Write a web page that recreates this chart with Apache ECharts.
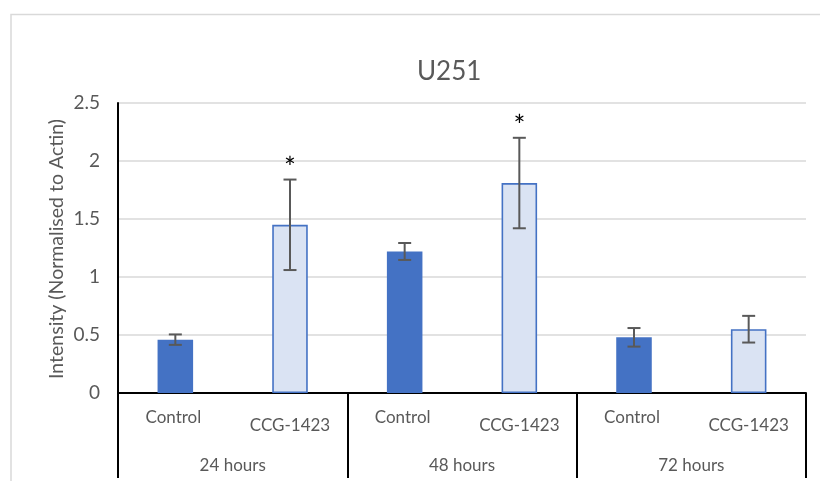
<!DOCTYPE html>
<html>
<head>
<meta charset="utf-8">
<script src="https://cdn.jsdelivr.net/npm/echarts@6/dist/echarts.min.js"></script>
<style>html,body{margin:0;padding:0;background:#fff;}#c{width:820px;height:481px;}</style>
</head>
<body>
<div id="c"></div>
<script>
const categories = ['Control', 'CCG-1423', 'Control', 'CCG-1423', 'Control', 'CCG-1423'];
const groups = ['24 hours', '48 hours', '72 hours'];
const means = [0.46, 1.45, 1.22, 1.81, 0.48, 0.55];
const errors = [0.045, 0.39, 0.073, 0.39, 0.08, 0.115];
const stars = ['', '*', '', '*', '', ''];
const yTicks = [0, 0.5, 1, 1.5, 2, 2.5];
const yTitle = 'Intensity (Normalised to Actin)';

const FONT = 'Lato';
const chart = echarts.init(document.getElementById('c'), null, {renderer: 'canvas'});

const barData = means.map((v, i) => ({
  value: v,
  itemStyle: categories[i] === 'Control'
    ? {color: '#4472C4', borderWidth: 0}
    : {color: '#DAE3F3', borderColor: '#4472C4', borderWidth: 1.6}
}));
const errData = means.map((v, i) => [i, v, errors[i], stars[i]]);

chart.setOption({
  animation: false,
  textStyle: {fontFamily: FONT},
  graphic: [{
    type: 'rect', z: -10, silent: true,
    shape: {x: 11, y: 14.5, width: 900, height: 600},
    style: {fill: '#fff', stroke: '#d9d9d9', lineWidth: 1.5}
  }, {
    type: 'text', silent: true, x: 57, y: 249, rotation: Math.PI / 2,
    style: {text: yTitle, fill: '#595959', fontSize: 19.5, fontFamily: FONT,
      align: 'center', verticalAlign: 'middle'}
  }],
  title: {
    text: 'U251', left: 412, top: 54,
    textStyle: {fontFamily: FONT, fontSize: 26, fontWeight: 'normal', color: '#595959'}
  },
  grid: {left: 118, right: 14, top: 103, bottom: 88, containLabel: false},
  xAxis: [{
    type: 'category', data: categories, position: 'bottom',
    axisLine: {show: true, lineStyle: {color: '#000', width: 2}},
    axisTick: {show: false},
    axisLabel: {
      interval: 0, margin: 16, color: '#595959', fontSize: 17, fontFamily: FONT,
      formatter: (v, i) => (i % 2 === 1 ? '{b|' + v + '}' : '{a|' + v + '}'),
      rich: {
        a: {fontSize: 17, fontFamily: FONT, color: '#595959', padding: [0, 4, 0, 0]},
        b: {fontSize: 17, fontFamily: FONT, color: '#595959', padding: [8, 0, 0, 0]}
      }
    }
  }, {
    type: 'category', data: groups, position: 'bottom',
    axisLine: {show: false},
    axisTick: {show: true, length: 85, interval: 0, lineStyle: {color: '#000', width: 2}},
    axisLabel: {interval: 0, margin: 64, color: '#595959', fontSize: 17, fontFamily: FONT}
  }],
  yAxis: {
    type: 'value', min: 0, max: 2.5, interval: 0.5,
    axisLine: {show: true, lineStyle: {color: '#000', width: 2}},
    axisTick: {show: false},
    axisLabel: {margin: 18, color: '#595959', fontSize: 19, fontFamily: FONT,
      formatter: v => String(v)},
    splitLine: {show: true, lineStyle: {color: '#d9d9d9', width: 1.5}}
  },
  series: [{
    type: 'bar', data: barData, barWidth: '31%', xAxisIndex: 0, z: 2
  }, {
    type: 'custom', xAxisIndex: 0, z: 5,
    data: errData,
    renderItem: function (params, api) {
      const x = api.value(0), m = api.value(1), e = api.value(2);
      const top = api.coord([x, m + e]);
      const bot = api.coord([x, m - e]);
      const cap = 6.5;
      const style = {stroke: '#595959', lineWidth: 2};
      const children = [
        {type: 'line', shape: {x1: top[0], y1: top[1], x2: bot[0], y2: bot[1]}, style},
        {type: 'line', shape: {x1: top[0] - cap, y1: top[1], x2: top[0] + cap, y2: top[1]}, style},
        {type: 'line', shape: {x1: bot[0] - cap, y1: bot[1], x2: bot[0] + cap, y2: bot[1]}, style}
      ];
      const s = stars[params.dataIndex];
      if (s) {
        children.push({type: 'text', style: {
          text: s, x: top[0], y: top[1] + 3, align: 'center', verticalAlign: 'bottom',
          fontSize: 28, fontFamily: FONT, fill: '#000'
        }});
      }
      return {type: 'group', children};
    }
  }]
});
</script>
</body>
</html>
